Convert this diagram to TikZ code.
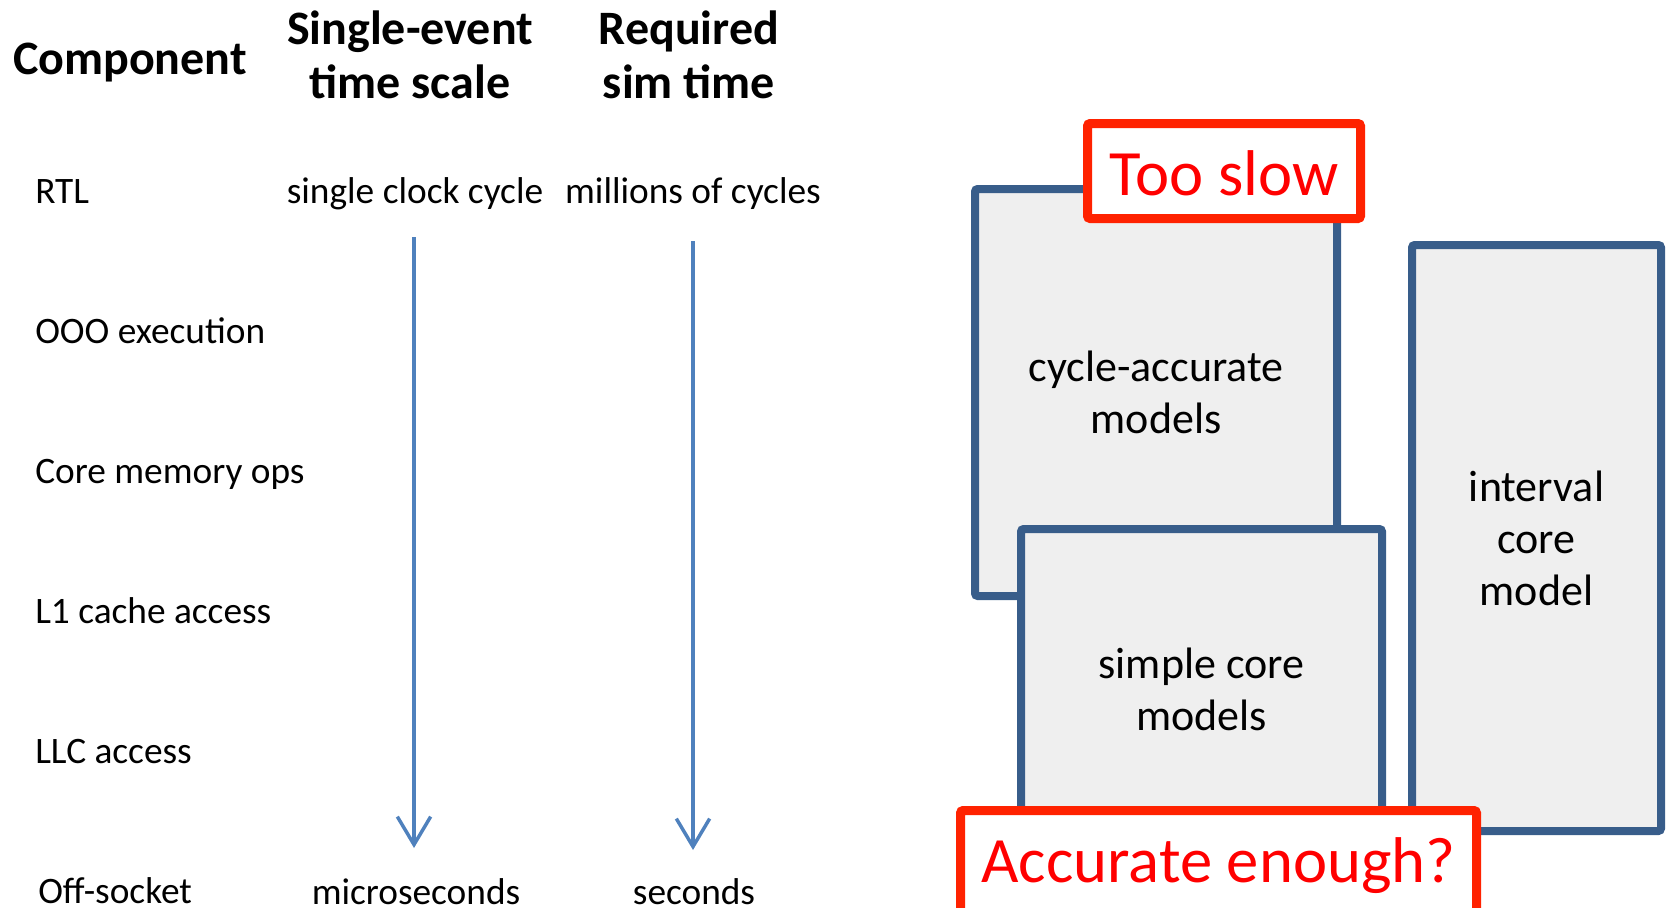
\documentclass[tikz,border=0pt]{standalone}
\usepackage{fontspec}
\setmainfont{Carlito}
\usetikzlibrary{arrows.meta}
\definecolor{boxedge}{RGB}{56,93,138}
\definecolor{boxfill}{RGB}{239,239,239}
\definecolor{flowblue}{RGB}{79,129,189}
\definecolor{alertedge}{RGB}{255,34,0}
\definecolor{alerttext}{RGB}{255,0,0}
\begin{document}
\begin{tikzpicture}[x=0.75pt,y=-0.75pt,
  header/.style={font=\bfseries\fontsize{36}{40.5}\selectfont, align=center, inner sep=0pt},
  rowlabel/.style={font=\fontsize{28}{34}\selectfont, anchor=base west, inner sep=0pt},
  rowvalue/.style={font=\fontsize{28}{34}\selectfont, anchor=base, inner sep=0pt},
  scalearrow/.style={draw=flowblue, line width=2.6pt, -{Straight Barb[length=21pt,width=25pt]}},
  model/.style={draw=boxedge, fill=boxfill, line width=6pt, rounded corners=2pt, align=center,
    font=\fontsize{33}{39}\selectfont, inner sep=0pt},
  verdict/.style={draw=alertedge, fill=white, line width=6.75pt, rounded corners=2pt,
    text=alerttext, font=\fontsize{48.5}{57}\selectfont, inner sep=0pt},
]
\useasboundingbox (0,0) rectangle (1667,907);

% column headers
\node[header, anchor=base] (hcomp) at (130,74) {Component};
\node[header] (hscale) at (410,55) {Single-event\\time scale};
\node[header] (hsim) at (689,55) {Required\\sim time};

% component rows
\node[rowlabel] (rtl) at (35,203) {RTL};
\node[rowlabel] (ooo) at (35,343) {OOO execution};
\node[rowlabel] (mem) at (35,483) {Core memory ops};
\node[rowlabel] (lone) at (35,623) {L1 cache access};
\node[rowlabel] (llc) at (35,763) {LLC access};
\node[rowlabel] (off) at (38,903) {Off-socket};

% time scale extremes
\node[rowvalue] (clk) at (415,203) {single clock cycle};
\node[rowvalue] (mcyc) at (693,203) {millions of cycles};
\node[rowvalue] (usec) at (416,904) {microseconds};
\node[rowvalue] (sec) at (694,904) {seconds};

% trend arrows
\coordinate (scaletop) at (414,237);
\coordinate (scalebot) at (414,848);
\coordinate (simtop) at (693,241);
\coordinate (simbot) at (693,850);
\draw[scalearrow] (scaletop) -- (scalebot);
\draw[scalearrow] (simtop) -- (simbot);

% simulation model families
\node[model, minimum width={362*0.75pt}, minimum height={407*0.75pt}] (cyc) at (1156,392.5)
  {cycle-accurate\\models};
\node[model, minimum width={361*0.75pt}, minimum height={321*0.75pt}] (simple) at (1201.5,689.5)
  {simple core\\models};
\node[model, minimum width={249*0.75pt}, minimum height={586*0.75pt}] (interval) at (1536.5,538)
  {interval\\core\\model};

% verdicts
\node[verdict, minimum width={273*0.75pt}, minimum height={95*0.75pt}, text height=37pt] (slow) at (1224,171) {Too slow};
\node[verdict, minimum width={516*0.75pt}, minimum height={111*0.75pt}] (enough) at (1218.5,866) {Accurate enough?};
\end{tikzpicture}
\end{document}
